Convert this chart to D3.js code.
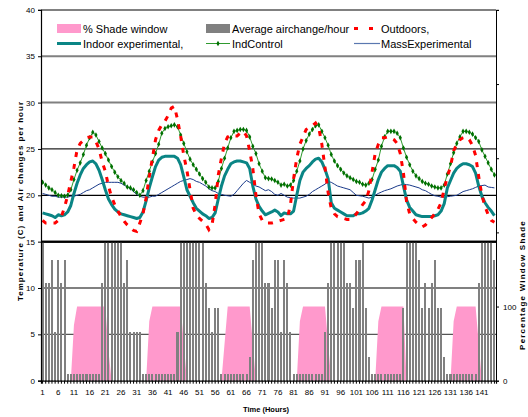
<!DOCTYPE html>
<html><head><meta charset="utf-8">
<script src="https://cdn.jsdelivr.net/npm/d3@7"></script>
<style>
body{margin:0;background:#fff;}
text{font-family:"Liberation Sans",Arial,sans-serif;}
</style></head>
<body><svg id="c" width="528" height="417"></svg>
<script>
// ---------- data ----------
const hours = d3.range(1, 146);           // categories 1..145
const xTickLabels = [1,6,11,16,21,26,31,36,41,46,51,56,61,66,71,76,81,86,91,96,101,106,111,116,121,126,131,136,141];
const yTicks = [0,5,10,15,20,25,30,35,40];
const yRTicks = [0,100,200,300,400,500];
const yRLabels = [0,100];

const airchange = [15,10.5,10.5,13,5.2,13,10.5,13,
 0.7,0.7,0.7,0.7,0.7,0.7,0.7,0.7,0.7,0.7,0.7,
 10.5,15,15,15,15,15,15,10.5,13,5.2,5.2,5.2,5.2,
 0.7,0.7,0.7,0.7,0.7,0.7,0.7,0.7,0.7,0.7,0.7,
 5.2,15,15,15,15,15,15,15,15,10.5,7.8,5.2,7.8,7.8,
 0.7,0.7,0.7,0.7,0.7,0.7,0.7,0.7,0.7,
 2.6,13,15,15,15,10.5,10.5,7.8,13,13,5.2,13,10.5,5.2,
 0.7,0.7,0.7,0.7,0.7,0.7,0.7,0.7,0.7,0.7,
 5.2,10.5,15,15,15,15,15,10.5,10.5,7.8,13,13,15,7.8,2.6,
 0.7,0.7,0.7,0.7,0.7,0.7,0.7,0.7,0.7,0.7,
 7.8,15,15,15,15,13,7.8,10.5,7.8,10.5,13,7.8,7.8,2.6,
 0.7,0.7,0.7,0.7,0.7,0.7,0.7,0.7,0.7,0.7,
 10.5,15,15,15,15,13];

const shade = [0,0,0,0,0,0,0,0,0,0,75,100,100,100,100,100,100,100,100,100,100,40,0,0,
 0,0,0,0,0,0,0,0,0,0,80,100,100,100,100,100,100,100,100,100,100,50,0,0,
 0,0,0,0,0,0,0,0,0,0,50,100,100,100,100,100,100,100,100,50,0,0,0,0,
 0,0,0,0,0,0,0,0,0,0,80,100,100,100,100,100,100,100,100,50,0,0,0,0,
 0,0,0,0,0,0,0,0,0,0,0,80,100,100,100,100,100,100,100,100,0,0,0,0,
 0,0,0,0,0,0,0,0,0,0,0,80,100,100,100,100,100,100,100,50,0];

const indoorExp = [18.1,18.0,17.9,17.8,17.6,17.9,17.8,17.9,18.2,18.9,
 20.2,21.3,22.2,22.9,23.3,23.6,23.7,23.4,22.7,21.7,
 20.6,19.6,19.0,18.5,18.2,18.0,17.9,17.8,17.7,17.6,
 17.5,17.6,18.2,19.4,20.8,22.0,23.1,23.8,24.1,24.2,
 24.2,24.2,24.2,24.0,23.3,22.0,20.6,19.9,19.2,18.6,
 18.3,18.0,17.8,
 17.5,17.6,18.1,19.6,21.0,22.1,22.8,23.4,23.6,23.7,23.7,23.6,23.5,22.9,21.0,19.6,18.8,18.3,17.9,
 18.05,18.2,18.4,18.2,17.8,18.1,18.0,18.0,18.3,20.0,
 21.6,22.5,22.9,23.2,23.6,23.9,24.0,23.6,22.8,21.8,
 19.2,18.6,18.4,18.2,18.0,17.8,17.8,17.8,18.0,18.0,
 18.1,18.3,18.6,19.5,20.6,21.7,22.5,22.9,23.2,23.2,
 23.2,23.0,22.6,21.0,19.5,18.7,18.3,17.9,17.8,17.7,
 17.7,17.7,17.7,17.8,17.9,18.3,19.1,20.8,21.6,22.4,
 22.9,23.2,23.4,23.4,23.3,23.1,22.4,21.0,19.9,19.2,
 18.7,18.3,17.8];

const indControl = [21.4,21.1,20.8,20.6,20.3,20.0,19.95,19.9,20.0,20.6,
 21.7,22.7,23.5,24.4,25.4,26.2,26.8,26.5,25.8,25.1,
 24.5,23.8,23.1,22.5,22.0,21.6,21.3,20.9,20.8,20.6,
 20.3,20.0,20.5,21.6,22.6,23.6,24.5,25.5,26.7,27.2,
 27.4,27.5,27.6,27.4,26.5,25.6,24.7,23.9,23.3,22.8,
 22.3,21.8,21.4,
 20.9,20.8,20.8,21.5,22.9,24.0,25.1,26.2,26.9,27.0,27.1,27.1,27.0,26.3,25.3,24.5,23.4,22.6,21.9,
 21.8,21.75,21.6,21.4,21.1,21.2,21.0,21.1,21.6,22.6,
 23.7,25.0,25.9,26.6,27.1,27.5,27.6,26.9,26.2,25.4,
 24.4,23.7,23.2,22.8,22.4,22.1,21.9,21.7,21.5,21.4,
 21.2,21.1,21.3,21.7,22.8,23.8,25.3,26.3,26.9,26.9,
 26.9,26.7,26.2,25.1,24.1,23.3,22.6,22.1,21.8,21.5,
 21.3,21.2,21.0,20.9,20.8,20.8,21.1,22.3,23.4,24.6,
 25.6,26.3,26.9,26.9,26.8,26.6,26.2,25.8,24.9,24.2,
 23.5,22.8,22.2];

const massExp = [20.2,20.1,20.0,19.9,19.9,19.8,19.8,19.8,19.8,19.9,
 19.9,20.0,20.1,20.3,20.5,20.6,20.8,21.0,21.2,21.3,
 21.4,21.4,21.4,21.4,21.4,21.3,21.1,20.9,20.7,20.4,
 20.1,19.9,19.8,19.8,19.8,19.9,19.9,20.1,20.3,20.5,
 20.7,20.9,21.1,21.3,21.5,21.6,21.7,21.8,21.7,21.5,
 21.4,21.2,21.0,
 20.7,20.5,20.4,20.2,20.1,20.0,19.95,19.9,20.1,20.5,20.9,21.3,21.6,21.4,21.2,21.0,20.9,20.7,20.5,
 20.6,20.4,20.1,20.0,20.2,20.0,19.8,19.75,19.7,19.7,
 19.7,19.8,19.9,20.1,20.4,20.6,20.8,21.0,21.2,21.5,
 21.4,21.2,21.0,20.9,20.8,20.7,20.6,20.3,20.0,19.95,
 19.9,19.8,19.7,19.8,20.0,20.2,20.35,20.5,20.6,20.7,
 20.85,21.0,21.1,21.2,21.15,21.1,21.0,20.9,20.8,20.6,
 20.5,20.3,20.1,19.95,19.9,19.8,19.8,19.85,19.9,19.95,
 20.0,20.2,20.4,20.5,20.6,20.7,20.85,21.0,21.05,21.1,
 20.9,20.85,20.8];

const outdoors = [17.3,17.0,17.0,17.0,17.0,17.3,17.7,18.7,20.0,21.5,
 23.0,24.9,25.6,25.9,26.2,26.3,26.3,25.8,25.0,23.6,
 22.6,21.0,19.8,19.0,18.3,17.7,17.2,16.8,16.5,16.2,
 16.1,17.0,18.0,19.7,22.0,24.0,26.0,27.0,27.6,28.0,
 28.6,29.4,29.6,28.2,26.4,24.3,22.7,20.6,18.6,17.9,
 17.5,17.2,16.9,
 16.3,16.8,19.0,22.2,24.0,25.6,26.3,26.5,26.4,26.4,26.7,26.9,26.4,24.8,22.9,20.0,18.0,17.3,17.0,
 17.0,17.0,17.1,17.2,17.3,17.4,17.5,19.0,21.8,24.0,
 25.5,26.3,27.1,27.3,27.5,27.8,27.3,25.5,23.0,20.3,
 18.6,18.0,17.7,17.6,17.5,17.4,17.4,17.6,18.0,18.5,
 19.0,19.4,20.5,22.5,24.5,25.5,26.2,26.2,26.3,26.2,
 26.0,25.6,24.5,22.4,19.3,18.0,17.5,17.1,16.8,16.6,
 16.8,17.2,17.6,18.0,18.5,19.2,20.7,22.0,23.1,24.8,
 25.5,26.0,26.2,26.3,26.0,25.4,24.3,22.0,20.0,18.8,
 17.9,17.3,17.1];

// ---------- chart ----------
const svg = d3.select("#c");
const L = 41, R = 496, T = 9.9, B = 380.7;
const x = d3.scaleBand().domain(hours).range([L, R]).paddingInner(0.36).paddingOuter(0.18);
const xc = d => x(d) + x.bandwidth() / 2;
const y = d3.scaleLinear().domain([0, 40]).range([B, T]);
const yR = d3.scaleLinear().domain([0, 500]).range([B, T]);

svg.append("rect").attr("width", 528).attr("height", 417).attr("fill", "#fff");

// gridlines
const gridStyle = {5:["#555",1.2],10:["#808080",2],15:["#000",2],20:["#000",1.3],25:["#222",1.3],30:["#808080",2],35:["#808080",2],40:["#808080",2]};
svg.append("g").selectAll("line").data(yTicks.filter(d => d > 0)).join("line")
  .attr("x1", L).attr("x2", R).attr("y1", d => y(d)).attr("y2", d => y(d))
  .attr("stroke", d => gridStyle[d][0]).attr("stroke-width", d => gridStyle[d][1]);

// shade area
const shadeArea = d3.area().x((d, i) => xc(hours[i])).y0(yR(0)).y1(d => yR(d));
svg.append("path").datum(shade).attr("d", shadeArea).attr("fill", "#FF99CC");

// bars
svg.append("g").attr("shape-rendering", "crispEdges").selectAll("rect").data(airchange).join("rect")
  .attr("x", (d, i) => x(hours[i])).attr("width", x.bandwidth())
  .attr("y", d => y(d)).attr("height", d => y(0) - y(d)).attr("fill", "#808080");

// redraw 15 line on top of bars
svg.append("line").attr("x1", L).attr("x2", R).attr("y1", y(15)).attr("y2", y(15))
  .attr("stroke", "#000").attr("stroke-width", 2);

// lines
const mkLine = arr => d3.line().x((d, i) => xc(hours[i])).y(d => y(d))(arr);
svg.append("path").attr("d", mkLine(massExp)).attr("fill", "none").attr("stroke", "#1a3a8a").attr("stroke-width", 1);
svg.append("path").attr("d", mkLine(indControl)).attr("fill", "none").attr("stroke", "#2f9a2f").attr("stroke-width", 1);
svg.append("g").selectAll("path").data(indControl).join("path")
  .attr("transform", (d, i) => `translate(${xc(hours[i])},${y(d)})`)
  .attr("d", d3.symbol(d3.symbolDiamond, 9)).attr("fill", "#007000");
svg.append("path").attr("d", mkLine(indoorExp)).attr("fill", "none").attr("stroke", "#0a8585").attr("stroke-width", 3).attr("stroke-linejoin", "round");
svg.append("path").attr("d", mkLine(outdoors)).attr("fill", "none").attr("stroke", "#ff0000").attr("stroke-width", 3).attr("stroke-dasharray", "5,7");

// axes
const axL = svg.append("g").attr("transform", `translate(${L},0)`)
  .call(d3.axisLeft(y).tickValues(yTicks).tickSize(3).tickPadding(3));
const axR = svg.append("g").attr("transform", `translate(${R},0)`)
  .call(d3.axisRight(yR).tickValues(yRTicks).tickSize(3).tickPadding(4)
  .tickFormat(d => yRLabels.includes(d) ? d : ""));
const axB = svg.append("g").attr("transform", `translate(0,${B})`)
  .call(d3.axisBottom(x).tickSize(3).tickPadding(6)
  .tickFormat(d => xTickLabels.includes(d) ? d : ""));
[axL, axR, axB].forEach(g => {
  g.selectAll("text").attr("font-size", 8).attr("fill", "#000").style("font-family", "Liberation Sans, Arial");
  g.selectAll("line,path").attr("stroke", "#000");
});
axL.select(".domain").attr("stroke-width", 1.2);
axB.select(".domain").attr("stroke-width", 1.2);

// axis titles
svg.append("text").attr("transform", "translate(23,201) rotate(-90)").attr("text-anchor", "middle")
  .attr("font-size", 8).attr("font-weight", "bold").attr("letter-spacing", 1)
  .text("Temperature (C) and Air changes per hour");
svg.append("text").attr("transform", "translate(525,285) rotate(-90)").attr("text-anchor", "middle")
  .attr("font-size", 8).attr("font-weight", "bold").attr("letter-spacing", 1.2)
  .text("Percentage Window Shade");
svg.append("text").attr("x", 266).attr("y", 412).attr("text-anchor", "middle")
  .attr("font-size", 7.5).attr("font-weight", "bold").text("Time (Hours)");

// legend
const lg = svg.append("g").attr("font-size", 11);
lg.append("rect").attr("x", 57).attr("y", 24).attr("width", 24).attr("height", 9).attr("fill", "#FF99CC");
lg.append("text").attr("x", 83).attr("y", 32.5).text("% Shade window");
lg.append("rect").attr("x", 206).attr("y", 24).attr("width", 24).attr("height", 9).attr("fill", "#808080");
lg.append("text").attr("x", 232).attr("y", 32.5).text("Average airchange/hour");
lg.append("line").attr("x1", 354).attr("x2", 374).attr("y1", 28.5).attr("y2", 28.5)
  .attr("stroke", "#ff0000").attr("stroke-width", 3).attr("stroke-dasharray", "4,11");
lg.append("text").attr("x", 381).attr("y", 32.5).text("Outdoors,");
lg.append("line").attr("x1", 57).attr("x2", 81).attr("y1", 43.5).attr("y2", 43.5).attr("stroke", "#0a8585").attr("stroke-width", 3);
lg.append("text").attr("x", 83).attr("y", 47.5).text("Indoor experimental,");
lg.append("line").attr("x1", 206).attr("x2", 230).attr("y1", 43.5).attr("y2", 43.5).attr("stroke", "#2f9a2f").attr("stroke-width", 1);
lg.append("path").attr("transform", "translate(218,43.5)").attr("d", d3.symbol(d3.symbolDiamond, 9)).attr("fill", "#007000");
lg.append("text").attr("x", 232).attr("y", 47.5).text("IndControl");
lg.append("line").attr("x1", 354).attr("x2", 380).attr("y1", 43.5).attr("y2", 43.5).attr("stroke", "#5a78b0").attr("stroke-width", 1.2);
lg.append("text").attr("x", 381).attr("y", 47.5).text("MassExperimental");
</script></body></html>
